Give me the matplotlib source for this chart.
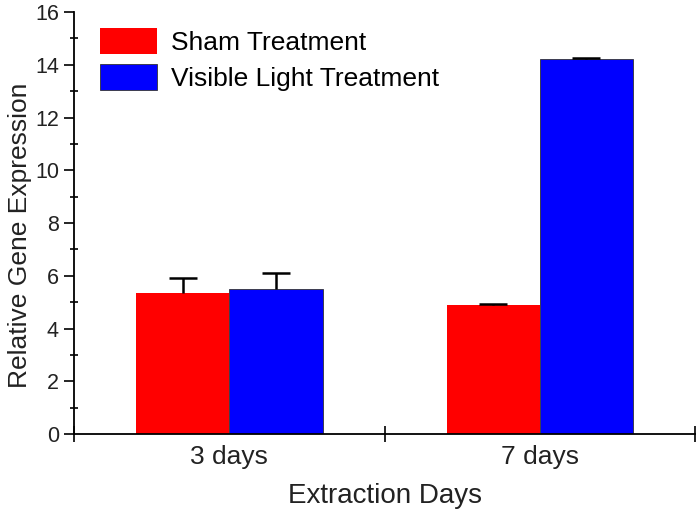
import matplotlib.pyplot as plt
from matplotlib.ticker import MultipleLocator, FixedLocator, NullFormatter

plt.rcParams['font.family'] = ['Liberation Sans', 'DejaVu Sans']

# Daten
groups = ["3 days", "7 days"]
sham = [5.35, 4.9]
sham_err = [0.55, 0.05]
light = [5.5, 14.2]
light_err = [0.6, 0.06]

centers = [0.5, 1.5]
width = 0.3

fig = plt.figure(figsize=(7, 5.2), dpi=100)
ax = fig.add_axes([0.106, 0.165, 0.887, 0.812])

err_style = dict(ecolor="black", elinewidth=1.8, capsize=10, capthick=1.8)
b1 = ax.bar([c - width / 2 for c in centers], sham, width, color="#ff0000",
            label="Sham Treatment", yerr=[[0, 0], sham_err], error_kw=err_style)
b2 = ax.bar([c + width / 2 for c in centers], light, width, color="#0000ff",
            edgecolor="#333333", linewidth=0.6,
            label="Visible Light Treatment", yerr=[[0, 0], light_err],
            error_kw=err_style)

# nur obere Fehlerbalken-Kappe zeigen
for b in (b1, b2):
    caps = b.errorbar.lines[1]
    caps[0].set_visible(False)

ax.set_xlim(0, 2)
ax.set_ylim(0, 16)

# x-Achse: Striche an den Grenzen, Beschriftung in der Mitte
ax.xaxis.set_major_locator(FixedLocator([0, 1, 2]))
ax.xaxis.set_major_formatter(NullFormatter())
ax.xaxis.set_minor_locator(FixedLocator(centers))
ax.set_xticklabels(groups, minor=True, fontsize=19, color="#222222")
ax.tick_params(axis="x", which="major", direction="inout", length=11, width=1.2)
ax.tick_params(axis="x", which="minor", length=0, pad=8)

ax.yaxis.set_major_locator(MultipleLocator(2))
ax.yaxis.set_minor_locator(MultipleLocator(1))
ax.tick_params(axis="y", which="major", direction="out", length=7, width=1.2,
               labelsize=15.5, labelcolor="#222222", pad=4)
ax.tick_params(axis="y", which="minor", direction="inout", length=6, width=1.2)

for side in ["top", "right"]:
    ax.spines[side].set_visible(False)
for side in ["left", "bottom"]:
    ax.spines[side].set_linewidth(1.3)

ax.set_xlabel("Extraction Days", fontsize=20, labelpad=10, color="#222222")
ax.set_ylabel("Relative Gene Expression", fontsize=19, color="#222222")
ax.yaxis.set_label_coords(-0.068, 0.47)

ax.legend(loc="upper left", bbox_to_anchor=(100 / 700, 1 - 28 / 520),
          bbox_transform=fig.transFigure, frameon=False,
          fontsize=19, handlelength=2.15, handleheight=1.15, handletextpad=0.55,
          labelspacing=0.33, borderaxespad=0, borderpad=0)

fig.savefig("out.png")
